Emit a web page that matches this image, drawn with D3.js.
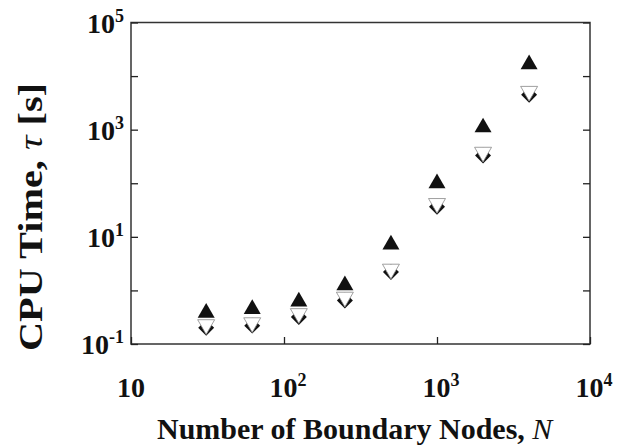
<!DOCTYPE html>
<html>
<head>
<meta charset="utf-8">
<script src="https://cdn.jsdelivr.net/npm/d3@7"></script>
<style>
  body { margin: 0; background: #fff; }
  text { font-family: "Liberation Serif", "Times New Roman", serif; font-weight: bold; fill: #111; }
</style>
</head>
<body>
<div id="chart"></div>
<script>
const width = 627;
const height = 447;

// data
const nodes = [31, 62, 125, 250, 500, 1000, 2000, 4000];
const tauUp = [0.38, 0.45, 0.62, 1.25, 7.2, 100, 1100, 16500];
const tauDown = [0.23, 0.25, 0.37, 0.75, 2.5, 42, 380, 5200];
const tauDiamond = [0.20, 0.22, 0.32, 0.65, 2.2, 36.5, 330, 4500];
const xTickVals = [10, 100, 1000, 10000];
const xTickLabels = [["10", ""], ["10", "2"], ["10", "3"], ["10", "4"]];
const yTickVals = [0.1, 1, 10, 100, 1000, 10000, 100000];
const yTickLabels = [["10", "-1"], null, ["10", "1"], null, ["10", "3"], null, ["10", "5"]];

const margin = { top: 22.5, right: 37, bottom: 103, left: 131 };
const innerW = width - margin.left - margin.right;
const innerH = height - margin.top - margin.bottom;

const svg = d3.select("#chart")
  .append("svg")
  .attr("width", width)
  .attr("height", height);

const g = svg.append("g")
  .attr("transform", `translate(${margin.left},${margin.top})`);

const x = d3.scaleLog().domain([10, 10000]).range([0, innerW]);
const y = d3.scaleLog().domain([0.1, 100000]).range([innerH, 0]);

// frame
g.append("rect")
  .attr("width", innerW)
  .attr("height", innerH)
  .attr("fill", "none")
  .attr("stroke", "#333")
  .attr("stroke-width", 1.5);

const tickLen = 7;

// inner ticks
g.append("g").call(d3.axisLeft(y).tickValues(yTickVals).tickSize(-tickLen).tickFormat(""))
  .call(a => a.select(".domain").remove());
g.append("g").attr("transform", `translate(${innerW},0)`)
  .call(d3.axisRight(y).tickValues(yTickVals).tickSize(-tickLen).tickFormat(""))
  .call(a => a.select(".domain").remove());
g.append("g").attr("transform", `translate(0,${innerH})`)
  .call(d3.axisBottom(x).tickValues(xTickVals).tickSize(-tickLen).tickFormat(""))
  .call(a => a.select(".domain").remove());
g.selectAll(".tick line").attr("stroke", "#222").attr("stroke-width", 1.3);

// tick labels with superscripts
function powerLabel(sel, lab) {
  sel.append("tspan").text(lab[0]);
  if (lab[1]) {
    sel.append("tspan")
      .attr("dy", -11)
      .style("font-size", "18px")
      .text(lab[1]);
  }
}

xTickVals.forEach((v, i) => {
  const t = g.append("text")
    .attr("x", x(v) + (xTickLabels[i][1] ? 4 : 0))
    .attr("y", innerH + 52.5)
    .attr("text-anchor", "middle")
    .style("font-size", "28px");
  powerLabel(t, xTickLabels[i]);
});

yTickVals.forEach((v, i) => {
  if (!yTickLabels[i]) return;
  const t = g.append("text")
    .attr("x", -7)
    .attr("y", y(v) + 10)
    .attr("text-anchor", "end")
    .style("font-size", "28px");
  powerLabel(t, yTickLabels[i]);
});

// axis titles
const xTitle = svg.append("text")
  .attr("x", 157)
  .attr("y", 439)
  .attr("text-anchor", "start")
  .style("font-size", "30px");
xTitle.append("tspan").text("Number of Boundary Nodes, ");
xTitle.append("tspan").style("font-style", "italic").style("font-weight", "normal").text("N");

const yTitle = svg.append("text")
  .attr("transform", `translate(42,217) rotate(-90)`)
  .attr("text-anchor", "middle")
  .attr("textLength", 268)
  .attr("lengthAdjust", "spacingAndGlyphs")
  .style("font-size", "34px");
yTitle.append("tspan").text("CPU Time, ");
yTitle.append("tspan").style("font-style", "italic").style("font-weight", "normal").text("\u03c4");
yTitle.append("tspan").text(" [s]");

// markers
const triUp = d3.symbol().type(d3.symbolTriangle).size(125);
const diamond = d3.symbol().type(d3.symbolDiamond2).size(162);

g.append("g").selectAll("path")
  .data(nodes.map((n, i) => [n, tauUp[i]]))
  .join("path")
  .attr("d", triUp)
  .attr("transform", d => `translate(${x(d[0])},${y(d[1])})`)
  .attr("fill", "#111");

g.append("g").selectAll("path")
  .data(nodes.map((n, i) => [n, tauDiamond[i]]))
  .join("path")
  .attr("d", diamond)
  .attr("transform", d => `translate(${x(d[0])},${y(d[1])})`)
  .attr("fill", "#111");

g.append("g").selectAll("path")
  .data(nodes.map((n, i) => [n, tauDown[i]]))
  .join("path")
  .attr("d", triUp)
  .attr("transform", d => `translate(${x(d[0])},${y(d[1])}) rotate(180)`)
  .attr("fill", "#fff")
  .attr("stroke", "#888")
  .attr("stroke-width", 0.8);
</script>
</body>
</html>
